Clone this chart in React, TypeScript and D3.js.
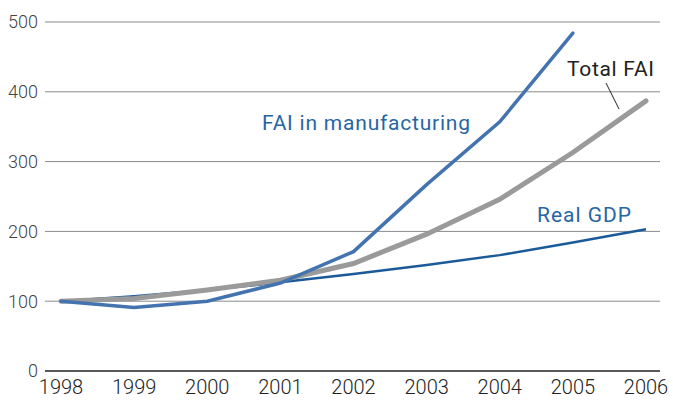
import * as d3 from 'd3';

const years = [1998, 1999, 2000, 2001, 2002, 2003, 2004, 2005, 2006];
const manufacturing = [100, 91, 100, 126, 171, 267, 357, 484];
const totalFai = [100, 104, 116, 130, 154, 196, 246, 313, 387];
const realGdp = [100, 107, 116, 127, 139, 152, 166, 184, 203];
const yTicks = [0, 100, 200, 300, 400, 500];

const W = 673;
const H = 402;
const font = 'Roboto, sans-serif';

export default function App() {
  const x = d3.scaleLinear().domain([1998, 2006]).range([61, 646]);
  const y = d3.scaleLinear().domain([0, 500]).range([371, 22]);

  const line = d3
    .line<number>()
    .x((_, i) => x(years[i]))
    .y((d) => y(d));

  return (
    <svg width={W} height={H} style={{ position: 'absolute', left: 0, top: 0 }}>
      <rect width={W} height={H} fill="#fff" />
      {yTicks.map((t) => (
        <g key={t}>
          <line
            x1={45}
            x2={660}
            y1={y(t)}
            y2={y(t)}
            stroke={t === 0 ? '#222' : '#8a8a8a'}
            strokeWidth={t === 0 ? 1.5 : 1}
          />
          <text x={38} y={y(t)} dy="0.35em" textAnchor="end" fontFamily={font} fontWeight={300} fontSize={18} fill="#444">
            {t}
          </text>
        </g>
      ))}
      {years.map((yr) => (
        <text key={yr} x={x(yr)} y={394} textAnchor="middle" fontFamily={font} fontWeight={300} fontSize={20} fill="#222">
          {yr}
        </text>
      ))}
      <path d={line(realGdp) ?? ''} fill="none" stroke="#1a5a99" strokeWidth={2.5} />
      <path d={line(totalFai) ?? ''} fill="none" stroke="#9a9a9a" strokeWidth={5} strokeLinecap="round" />
      <path d={line(manufacturing) ?? ''} fill="none" stroke="#4474b0" strokeWidth={3.5} strokeLinecap="round" />
      <text x={262} y={130} fontFamily={font} fontSize={21} fill="#2766a5" textLength={208}>
        FAI in manufacturing
      </text>
      <text x={567} y={76} fontFamily={font} fontSize={21} fill="#222" textLength={87}>
        Total FAI
      </text>
      <line x1={606} y1={83} x2={619} y2={109} stroke="#222" strokeWidth={1} />
      <text x={537} y={222} fontFamily={font} fontSize={21} fill="#2766a5" textLength={94}>
        Real GDP
      </text>
    </svg>
  );
}
